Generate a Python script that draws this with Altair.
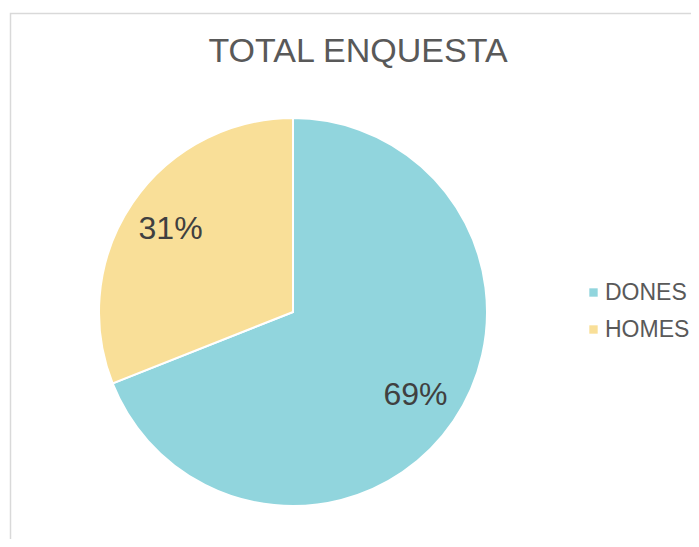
import altair as alt
import pandas as pd

categories = ["DONES", "HOMES"]
values = [69, 31]
labels = ["69%", "31%"]
colors = ["#91D5DD", "#F9DF98"]

df = pd.DataFrame({"cat": categories, "val": values, "label": labels, "order": [0, 1]})

W, H = 683, 531
cx, cy = 285, 304
R = 194

border = alt.Chart(pd.DataFrame({"a": [0]})).mark_rect(
    fill=None, stroke="#D9D9D9", strokeWidth=1.5
).encode(
    x=alt.value(2.5), y=alt.value(5.5), x2=alt.value(W + 50), y2=alt.value(H + 50)
)

base = alt.Chart(df).encode(
    theta=alt.Theta("val:Q", stack=True),
    order=alt.Order("order:Q"),
)

pie = base.mark_arc(outerRadius=R, stroke="white", strokeWidth=2).encode(
    color=alt.Color(
        "cat:N",
        scale=alt.Scale(domain=categories, range=colors),
        legend=alt.Legend(
            title=None,
            orient="none",
            legendX=574,
            legendY=273,
            padding=0,
            symbolType="square",
            symbolSize=70,
            symbolStrokeWidth=0,
            labelFontSize=23,
            labelFont="Liberation Sans",
            labelColor="#595959",
            rowPadding=13,
            labelOffset=0,
            labelLimit=200,
        ),
    ),
    x=alt.value(cx),
    y=alt.value(cy),
)

text = base.mark_text(
    radius=148, fontSize=32, font="Liberation Sans", color="#404040"
).encode(
    text="label:N",
    x=alt.value(cx),
    y=alt.value(cy),
)

title = alt.Chart(pd.DataFrame({"t": ["TOTAL ENQUESTA"]})).mark_text(
    fontSize=34, font="Liberation Sans", color="#595959", baseline="alphabetic", align="center"
).encode(
    text="t:N", x=alt.value(350), y=alt.value(54)
)

chart = alt.layer(border, pie, text, title).properties(
    width=W, height=H, padding=0, autosize=alt.AutoSizeParams(type="none")
).configure_view(stroke=None)

chart.save("out.html", embed_options={"renderer": "svg", "actions": False})
